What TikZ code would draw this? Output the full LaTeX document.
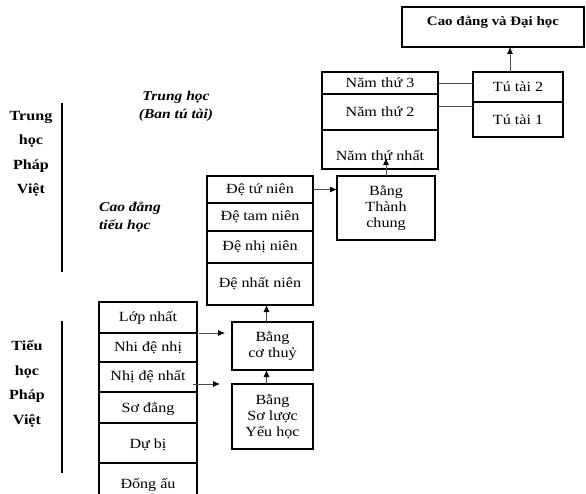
\documentclass[tikz,border=0pt]{standalone}
\usepackage{fontspec}
\setmainfont{Liberation Serif}[FakeStretch=1.15]
\usetikzlibrary{arrows.meta,positioning}

\tikzset{
  cell/.style={draw, line width=1.1pt, inner sep=0pt, outer sep=0pt,
    minimum width=#1, align=center, font=\fontsize{14}{16}\selectfont},
  link/.style={draw=black!70, line width=0.8pt},
  arr/.style={link, -{Latex[length=7pt,width=6pt,color=black]}},
  side/.style={align=center, font=\bfseries\fontsize{14}{24.5}\selectfont},
  stage/.style={font=\bfseries\itshape\fontsize{13.5}{18}\selectfont}
}

\begin{document}
\begin{tikzpicture}[x=1pt,y=-1pt]
    \useasboundingbox (0,0) rectangle (586,494);

    % Tieu hoc
    \node[cell=98pt, minimum height=31pt, anchor=north west] (lop) at (99,302) {Lớp nhất};
    \node[cell=98pt, minimum height=29pt, below=0pt of lop] (nhi2) {Nhi đệ nhị};
    \node[cell=98pt, minimum height=30pt, below=0pt of nhi2] (nhi1) {Nhị đệ nhất};
    \node[cell=98pt, minimum height=31pt, below=0pt of nhi1, text height=14pt] (sodang) {Sơ đẳng};
    \node[cell=98pt, minimum height=40pt, below=0pt of sodang, text height=14pt] (dubi) {Dự bị};
    \node[cell=98pt, minimum height=40pt, below=0pt of dubi, text height=14pt] (dongau) {Đống ấu};

    % Cao dang tieu hoc
    \node[cell=106pt, minimum height=27pt, anchor=north west] (detu) at (207,176) {Đệ tứ niên};
    \node[cell=106pt, minimum height=28pt, below=0pt of detu] (detam) {Đệ tam niên};
    \node[cell=106pt, minimum height=32pt, below=0pt of detam] (denhi) {Đệ nhị niên};
    \node[cell=106pt, minimum height=42pt, below=0pt of denhi] (denhat) {Đệ nhất niên};

    % Trung hoc
    \node[cell=116pt, minimum height=22pt, anchor=north west] (nam3) at (322,72) {Năm thứ 3};
    \node[cell=116pt, minimum height=36pt, below=0pt of nam3] (nam2) {Năm thứ 2};
    \node[cell=116pt, minimum height=39pt, below=0pt of nam2, text height=22pt] (nam1) {Năm thứ nhất};

    \node[cell=90pt, minimum height=30pt, anchor=north west] (tt2) at (473,72) {Tú tài 2};
    \node[cell=90pt, minimum height=35pt, below=0pt of tt2] (tt1) {Tú tài 1};

    \node[cell=182pt, minimum height=40pt, anchor=north west, text depth=12pt,
      font=\bfseries\fontsize{13}{15}\selectfont] (daihoc) at (402,7) {Cao đẳng và Đại học};

    % Bang
    \node[cell=98pt, minimum height=64pt, anchor=north west] (thanhchung) at (337,176) {Bằng\\Thành\\chung};
    \node[cell=81pt, minimum height=48pt, anchor=north west] (cothuy) at (232,322) {Bằng\\cơ thuỷ};
    \node[cell=81pt, minimum height=65pt, anchor=north west] (soluoc) at (232,384) {Bằng\\Sơ lược\\Yếu học};

    % Labels
    \node[side] (phapviet1) at (31,154) {Trung\\học\\Pháp\\Việt};
    \node[side] (phapviet2) at (27,384) {Tiểu\\học\\Pháp\\Việt};
    \draw[line width=1.2pt] (62,103) -- (62,272);
    \draw[line width=1.2pt] (62,321) -- (62,473);
    \node[stage, align=center] (bantutai) at (176,106) {Trung học\\(Ban tú tài)};
    \node[stage, align=left] (caodang) at (130,217) {Cao đẳng\\tiểu học};

    % Connectors
    \coordinate (tt2top) at ([xshift=-8pt]tt2.north);
    \draw[arr] (tt2top) -- (tt2top |- daihoc.south);
    \draw[link] (nam3.east) -- (nam3.east -| tt2.west);
    \coordinate (nam2out) at ([yshift=-12pt]nam2.north east);
    \draw[link] (nam2out) -- (nam2out -| tt1.west);

    \coordinate (nam1in) at (nam1.south -| thanhchung.north);
    \draw[arr] (thanhchung.north) -- ([yshift=11pt]nam1in);
    \draw[arr] (detu.east) -- (detu.east -| thanhchung.west);

    \coordinate (cotop) at ([xshift=-6pt]cothuy.north);
    \draw[arr] (cotop) -- (cotop |- denhat.south);
    \coordinate (sotop) at ([xshift=-6pt]soluoc.north);
    \draw[arr] (sotop) -- (sotop |- cothuy.south);

    \coordinate (lopout) at ([xshift=2pt]lop.south east);
    \coordinate (lopend) at (lopout -| cothuy.west);
    \draw[arr] (lopout) -- ([xshift=-7pt]lopend);
    \coordinate (nhiout) at ([xshift=-4pt,yshift=-7pt]nhi1.east);
    \coordinate (nhiend) at (nhiout -| soluoc.west);
    \draw[arr] (nhiout) -- ([xshift=-12pt]nhiend);
\end{tikzpicture}
\end{document}
